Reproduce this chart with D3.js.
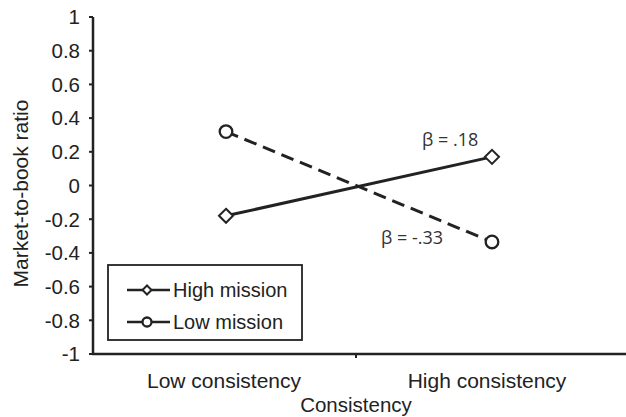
<!DOCTYPE html>
<html><head><meta charset="utf-8">
<script src="https://cdn.jsdelivr.net/npm/d3@7"></script>
<style>body{margin:0;background:#fff}svg{display:block}text{font-family:"Liberation Sans",Arial,sans-serif;fill:#222}</style>
</head><body>
<svg id="c" width="626" height="417"></svg>
<script>
const categories = ["Low consistency", "High consistency"];
const highMission = [-0.18, 0.17];
const lowMission = [0.32, -0.335];
const yTicks = [1, 0.8, 0.6, 0.4, 0.2, 0, -0.2, -0.4, -0.6, -0.8, -1];
const yTickLabels = ["1","0.8","0.6","0.4","0.2","0","-0.2","-0.4","-0.6","-0.8","-1"];
const betaLabels = ["β = .18", "β = -.33"];
const seriesNames = ["High mission", "Low mission"];

const svg = d3.select("#c");
const y = d3.scaleLinear().domain([-1, 1]).range([354, 17]);
const x = d3.scaleBand().domain(categories).range([93, 625]);
const cx = c => x(c) + x.bandwidth() / 2;

// y axis
svg.append("line").attr("x1", 93).attr("x2", 93).attr("y1", y(1)).attr("y2", y(-1) + 1)
  .attr("stroke", "#222").attr("stroke-width", 2.5);
yTicks.forEach((t, i) => {
  svg.append("line").attr("x1", 89).attr("x2", 93).attr("y1", y(t)).attr("y2", y(t))
    .attr("stroke", "#222").attr("stroke-width", 2);
  svg.append("text").attr("x", 80).attr("y", y(t)).attr("dy", "0.36em")
    .attr("text-anchor", "end").attr("font-size", 20.5).text(yTickLabels[i]);
});
svg.append("text").attr("transform", `translate(20,${y(0) + 8}) rotate(-90)`)
  .attr("text-anchor", "middle").attr("dy", "0.36em").attr("font-size", 21).text("Market-to-book ratio");

// x axis
svg.append("line").attr("x1", 92).attr("x2", 626).attr("y1", y(-1)).attr("y2", y(-1))
  .attr("stroke", "#222").attr("stroke-width", 2.5);
const mid = x(categories[1]) - 3;
svg.append("line").attr("x1", mid).attr("x2", mid).attr("y1", y(-1)).attr("y2", y(-1) + 4)
  .attr("stroke", "#222").attr("stroke-width", 2);
categories.forEach((c, i) => {
  svg.append("text").attr("x", cx(c) - 2 - 3 * i).attr("y", 388).attr("text-anchor", "middle")
    .attr("font-size", 21).text(c);
});
svg.append("text").attr("x", 356).attr("y", 412).attr("text-anchor", "middle")
  .attr("font-size", 20.5).text("Consistency");

// lines
const line = d3.line().x((d, i) => cx(categories[i])).y(d => y(d));
svg.append("path").attr("d", line(lowMission)).attr("fill", "none").attr("stroke", "#222")
  .attr("stroke-width", 3).attr("stroke-dasharray", "13,7");
svg.append("path").attr("d", line(highMission)).attr("fill", "none").attr("stroke", "#222")
  .attr("stroke-width", 3);

const diamond = (g, px, py, s) => g.append("path")
  .attr("d", `M${px},${py - s}L${px + s},${py}L${px},${py + s}L${px - s},${py}Z`)
  .attr("fill", "#fff").attr("stroke", "#222").attr("stroke-width", 2);
const circle = (g, px, py, r) => g.append("circle").attr("cx", px).attr("cy", py).attr("r", r)
  .attr("fill", "#fff").attr("stroke", "#222").attr("stroke-width", 2.3);

highMission.forEach((v, i) => diamond(svg, cx(categories[i]), y(v), 7));
lowMission.forEach((v, i) => circle(svg, cx(categories[i]), y(v), 6.3));

// beta annotations
svg.append("text").attr("x", 422).attr("y", 146).attr("font-size", 18)
  .style("font-family", "'Open Sans',sans-serif").style("fill", "#333").text(betaLabels[0]);
svg.append("text").attr("x", 381).attr("y", 244).attr("font-size", 18)
  .style("font-family", "'Open Sans',sans-serif").style("fill", "#333").text(betaLabels[1]);

// legend
svg.append("rect").attr("x", 108).attr("y", 265).attr("width", 194).attr("height", 75)
  .attr("fill", "#fff").attr("stroke", "#222").attr("stroke-width", 1.8);
seriesNames.forEach((n, i) => {
  const ly = 290 + i * 32;
  svg.append("line").attr("x1", 127).attr("x2", 170).attr("y1", ly).attr("y2", ly)
    .attr("stroke", "#222").attr("stroke-width", 2.5);
  if (i === 0) diamond(svg, 147, ly, 4.5); else circle(svg, 147, ly, 4.5);
  svg.append("text").attr("x", 173).attr("y", ly).attr("dy", "0.36em").attr("font-size", 20).text(n);
});
</script>
</body></html>
